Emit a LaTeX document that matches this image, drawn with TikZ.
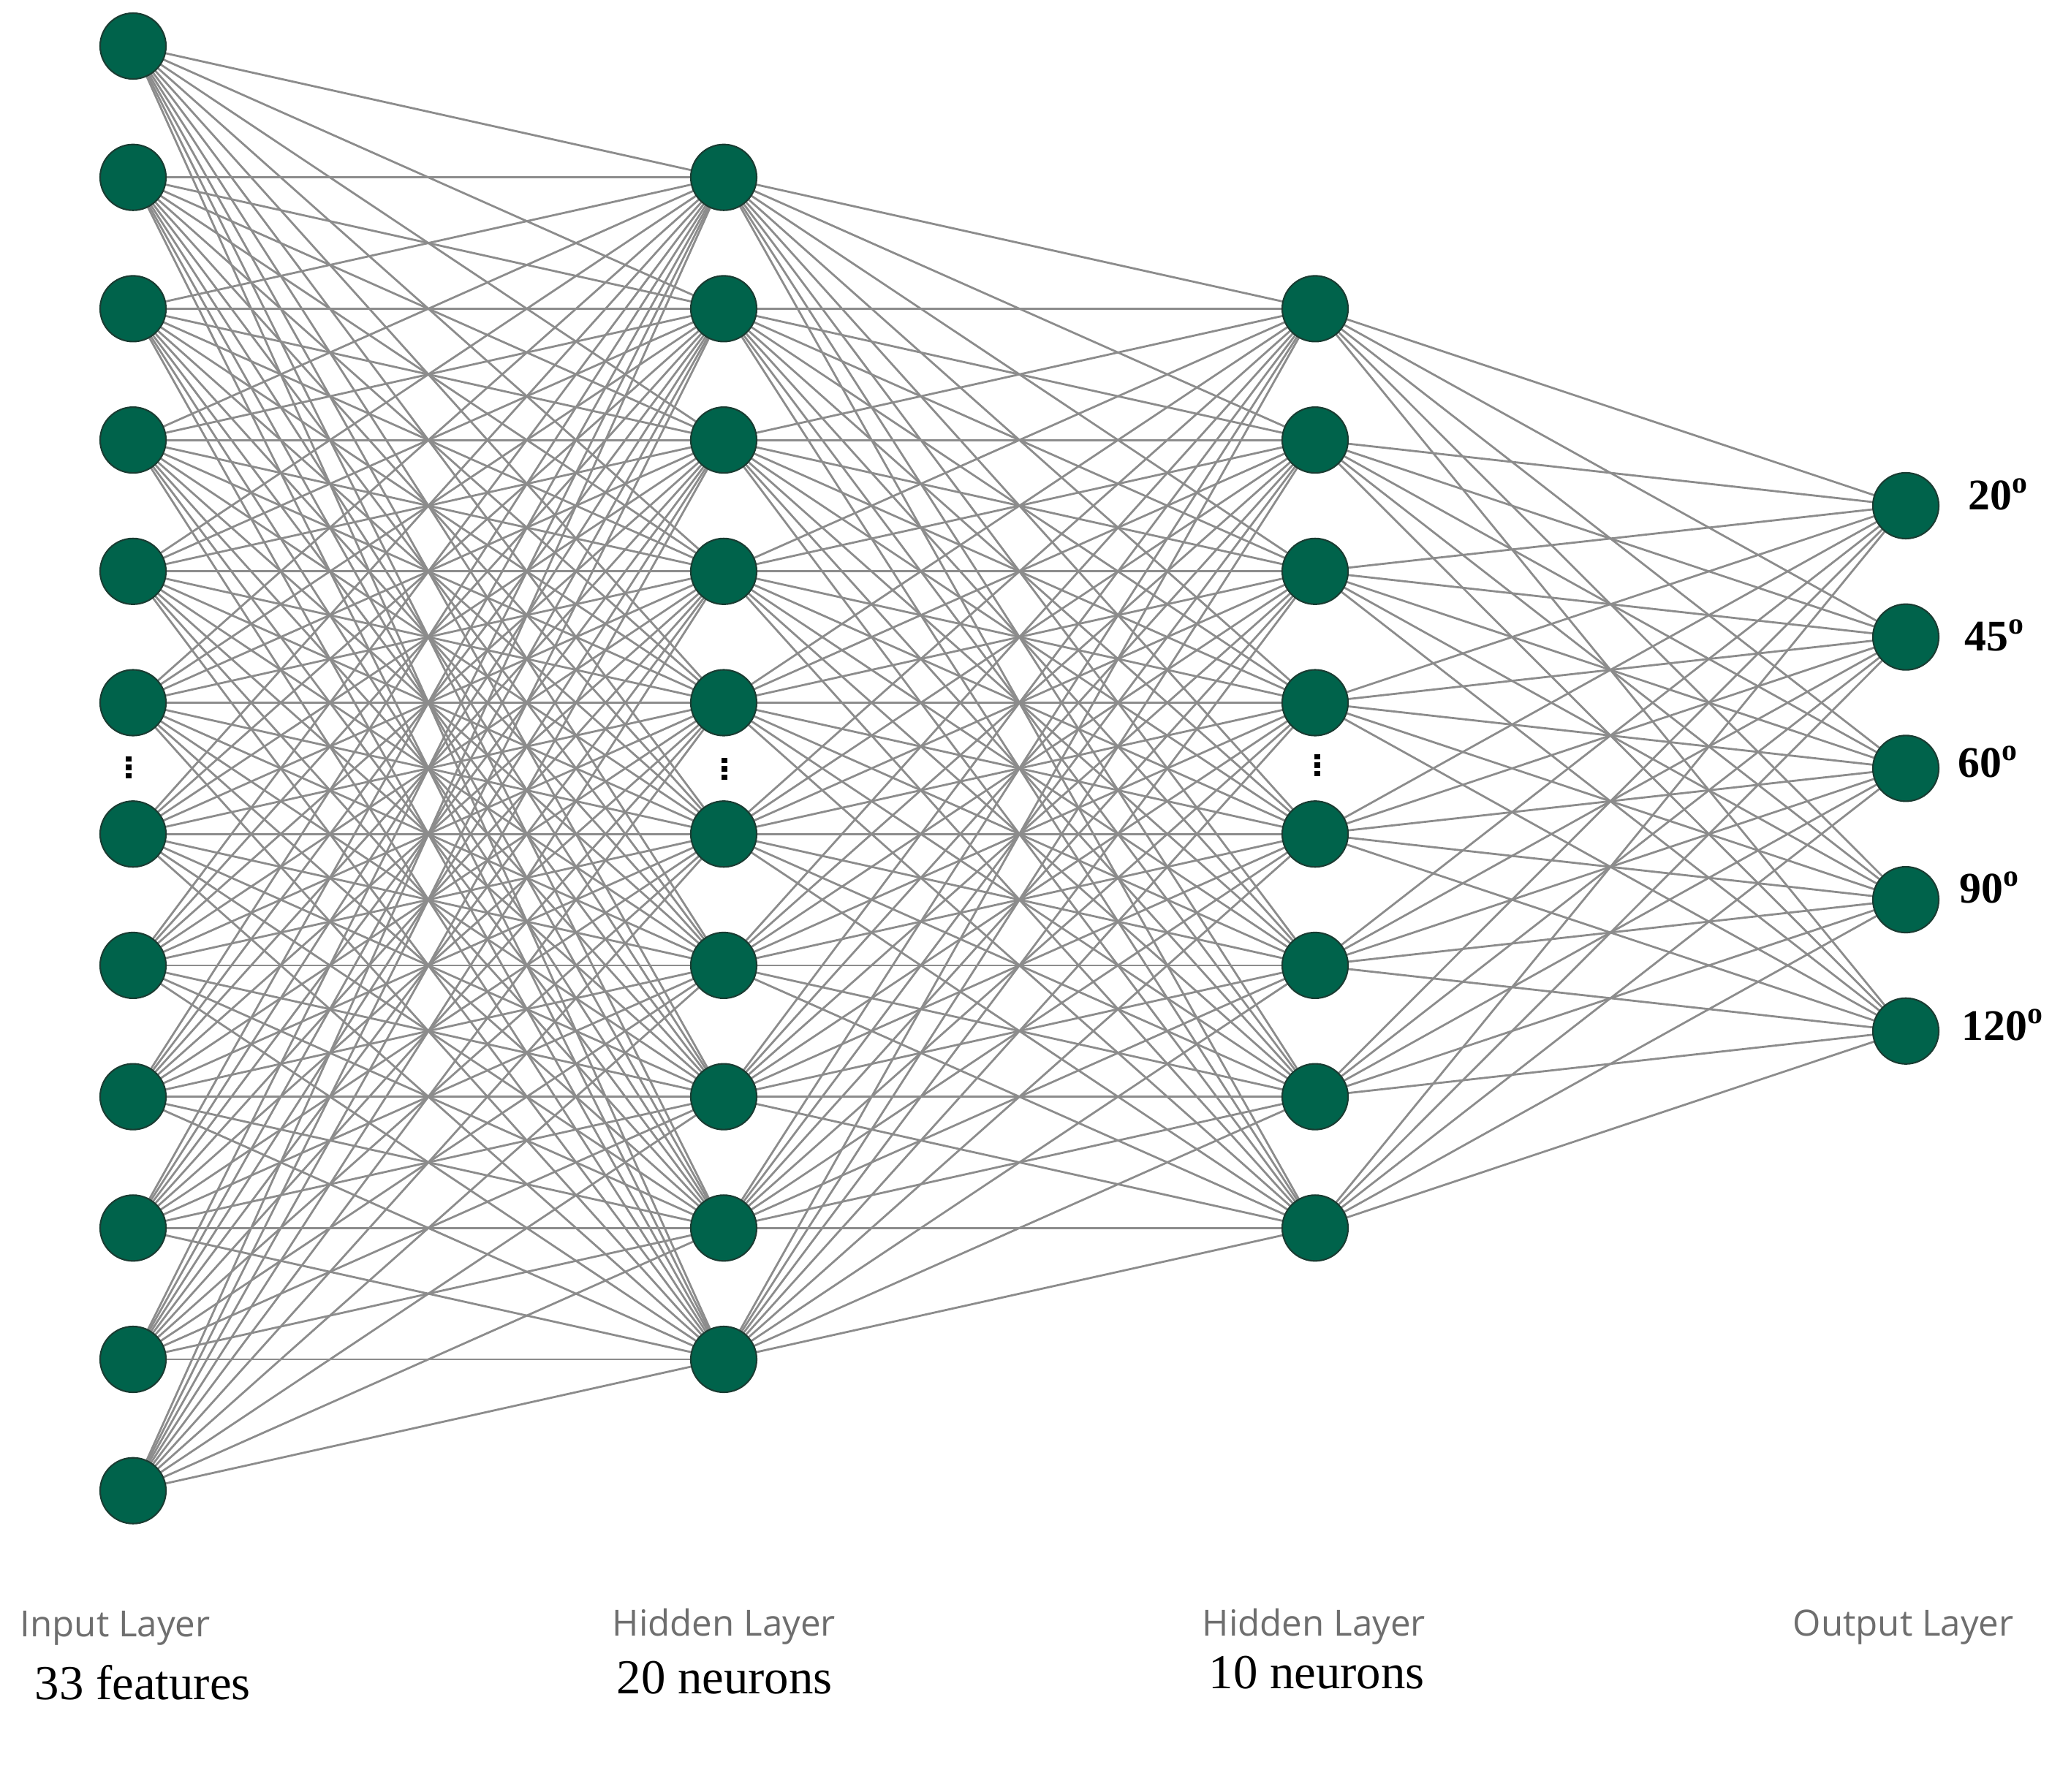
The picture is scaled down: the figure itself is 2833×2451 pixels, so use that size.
\documentclass[tikz,border=0pt]{standalone}
\usepackage{fontspec}
\setmainfont{Liberation Serif}
\newfontfamily\labelsans{Open Sans}
\usetikzlibrary{backgrounds}
\definecolor{neuronfill}{RGB}{0,99,75}
\definecolor{neuronborder}{RGB}{25,60,50}
\definecolor{edgegray}{RGB}{140,140,140}
\definecolor{labelgray}{RGB}{110,110,110}
\begin{document}
\begin{tikzpicture}[x=0.01cm,y=-0.01cm,
  neuron/.style={circle,fill=neuronfill,draw=neuronborder,line width=0.6pt,minimum size=0.9cm,inner sep=0},
  conn/.style={draw=edgegray,line width=0.8pt},
  layername/.style={font=\labelsans\fontsize{14}{16}\selectfont,text=labelgray,anchor=base west,inner sep=0},
  layersize/.style={font=\fontsize{19}{22}\selectfont,anchor=base west,inner sep=0},
  outlabel/.style={font=\bfseries\fontsize{17}{20}\selectfont,anchor=base west,inner sep=0},
  ellipsisdots/.style={inner sep=0,align=center,font=\fontsize{3.4}{3.4}\selectfont}]
\useasboundingbox (0,0) rectangle (2833,2451);
% neurons
\foreach \i in {1,...,12} \node[neuron] (in\i) at (182,{63+179.7*(\i-1)}) {};
\foreach \j in {1,...,10} \node[neuron] (ha\j) at (990,{63+179.7*\j}) {};
\foreach \k in {1,...,8} \node[neuron] (hb\k) at (1799,{63+179.7*(\k+1)}) {};
\foreach \m in {1,...,5} \node[neuron] (out\m) at (2607,{63+179.7*(\m+2.5)}) {};
% connections
\begin{pgfonlayer}{background}
\foreach \i in {1,...,12} \foreach \j in {1,...,10} \draw[conn] (in\i.center) -- (ha\j.center);
\foreach \j in {1,...,10} \foreach \k in {1,...,8} \draw[conn] (ha\j.center) -- (hb\k.center);
\foreach \k in {1,...,8} \foreach \m in {1,...,5} \draw[conn] (hb\k.center) -- (out\m.center);
\end{pgfonlayer}
% ellipsis dots
\node[ellipsisdots] (dotsin) at (176,1050) {\rule{2.3pt}{2pt}\\\rule{2.3pt}{2pt}\\\rule{2.3pt}{2pt}};
\node[ellipsisdots] (dotsha) at (991,1052) {\rule{2.3pt}{2pt}\\\rule{2.3pt}{2pt}\\\rule{2.3pt}{2pt}};
\node[ellipsisdots] (dotshb) at (1802,1047) {\rule{2.3pt}{2pt}\\\rule{2.3pt}{2pt}\\\rule{2.3pt}{2pt}};
% output labels
\node[outlabel] (lab1) at (2692,697) {20\textsuperscript{o}};
\node[outlabel] (lab2) at (2687,890) {45\textsuperscript{o}};
\node[outlabel] (lab3) at (2678,1063) {60\textsuperscript{o}};
\node[outlabel] (lab4) at (2680,1235) {90\textsuperscript{o}};
\node[outlabel] (lab5) at (2683,1423) {120\textsuperscript{o}};
% layer captions
\node[layername] (capin) at (27,2239) {Input Layer};
\node[layersize] (szin) at (47,2325) {33 features};
\node[layername] (capha) at (837,2238) {Hidden Layer};
\node[layersize] (szha) at (843,2317) {20 neurons};
\node[layername] (caphb) at (1644,2238) {Hidden Layer};
\node[layersize] (szhb) at (1653,2310) {10 neurons};
\node[layername] (capout) at (2452,2238) {Output Layer};
\end{tikzpicture}
\end{document}
